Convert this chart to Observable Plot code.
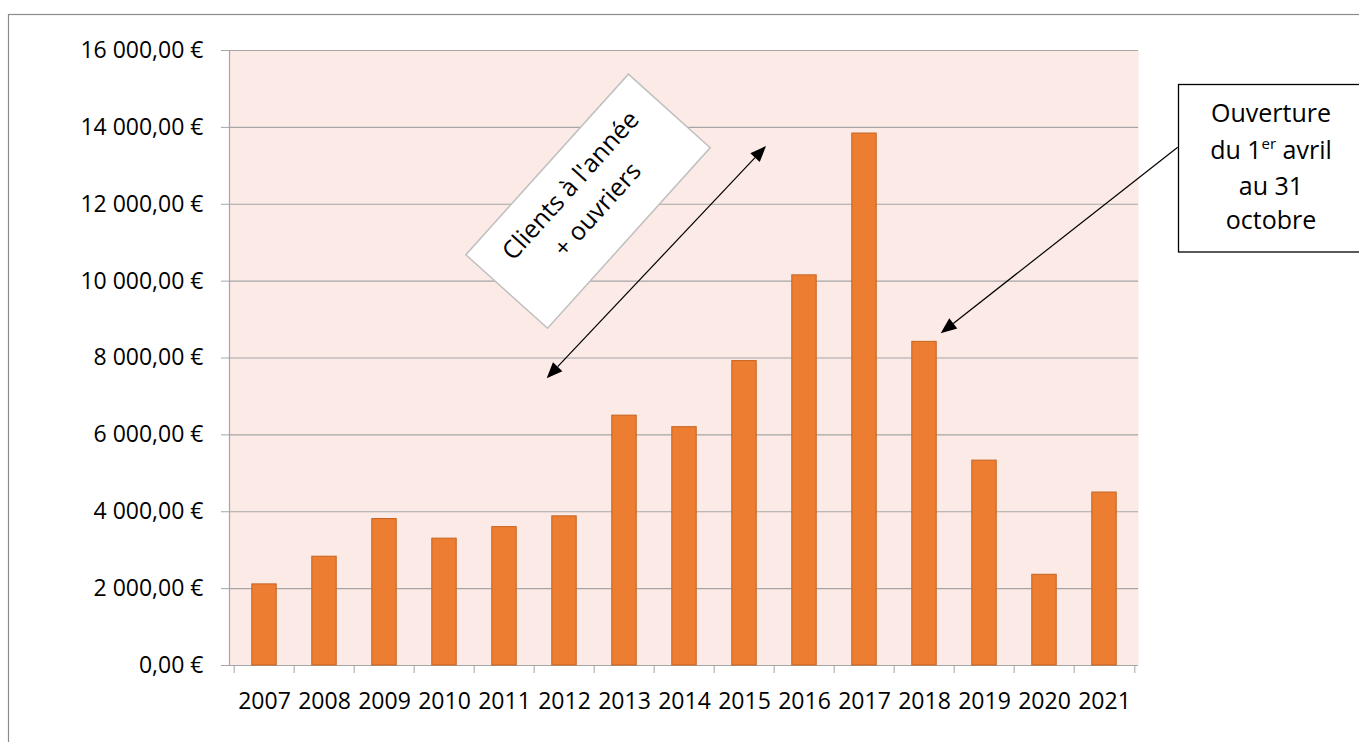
<!DOCTYPE html>
<html>
<head>
<meta charset="utf-8">
<script src="https://cdn.jsdelivr.net/npm/d3@7"></script>
<script src="https://cdn.jsdelivr.net/npm/@observablehq/plot@0.6"></script>
<style>
  html, body { margin: 0; padding: 0; background: #fff; }
  svg text { font-family: "Open Sans", sans-serif; }
</style>
</head>
<body>
<div id="chart"></div>
<script>
// ---- data ----
const years = ["2007","2008","2009","2010","2011","2012","2013","2014","2015","2016","2017","2018","2019","2020","2021"];
const revenue = [2110, 2830, 3810, 3300, 3600, 3880, 6500, 6200, 7920, 10150, 13840, 8420, 5330, 2360, 4500];
const yTicks = [0, 2000, 4000, 6000, 8000, 10000, 12000, 14000, 16000];
const noteLeft = ["Clients à l'année", "+ ouvriers"];
const noteRight = ["Ouverture", "du 1", "er", " avril", "au 31", "octobre"];

const rows = years.map((year, i) => ({year, value: revenue[i]}));

const W = 1359, H = 742;
const mL = 229, mR = 221, mT = 50, mB = 77;
const step = (W - mL - mR) / years.length;
const fr = d3.formatLocale({decimal: ",", thousands: " ", grouping: [3], currency: ["", " €"]});
const fmt = fr.format("$,.2f");
const grid = "#A6A6A6";

const plot = Plot.plot({
  width: W, height: H,
  marginLeft: mL, marginRight: mR, marginTop: mT, marginBottom: mB,
  style: {fontFamily: "Open Sans, sans-serif", fontSize: "23px", color: "#000", background: "#fff", overflow: "visible"},
  x: {domain: years, padding: 0, label: null},
  y: {domain: [0, 16000], label: null},
  marks: [
    Plot.frame({fill: "#FBEAE6", stroke: null}),
    Plot.gridY(yTicks, {stroke: grid, strokeOpacity: 1, strokeWidth: 1.2}),
    Plot.frame({anchor: "left", stroke: grid, strokeWidth: 1.2}),
    Plot.barY(rows, {x: "year", y: "value", fill: "#ED7D31", stroke: "#C5621F", strokeWidth: 1, insetLeft: (step - 25) / 2, insetRight: (step - 25) / 2}),
    Plot.axisY(yTicks, {tickFormat: fmt, tickSize: 8, tickPadding: 18, stroke: grid, fontSize: 23, label: null}),
    Plot.axisX({tickSize: 0, tickPadding: 27, fontSize: 23, label: null}),
    Plot.axisX({tickSize: 8, text: null, dx: -step / 2, stroke: grid, label: null}),
    Plot.axisX([years[years.length - 1]], {tickSize: 8, text: null, dx: step / 2, stroke: grid, label: null})
  ]
});

document.getElementById("chart").appendChild(plot);

// ---- annotations (drawn on top of the Plot SVG) ----
const svg = d3.select(plot);

// outer chart border
svg.append("rect")
  .attr("x", 8.5).attr("y", 14.5).attr("width", 1400).attr("height", 800)
  .attr("fill", "none").attr("stroke", "#8C8C8C").attr("stroke-width", 1.2);

function arrowHead(g, x1, y1, x2, y2, len, wid) {
  const a = Math.atan2(y2 - y1, x2 - x1);
  const bx = x2 - len * Math.cos(a), by = y2 - len * Math.sin(a);
  const px = Math.sin(a) * wid / 2, py = -Math.cos(a) * wid / 2;
  g.append("path")
    .attr("d", `M${x2},${y2}L${bx + px},${by + py}L${bx - px},${by - py}Z`)
    .attr("fill", "#000");
  return [bx, by];
}
function arrow(x1, y1, x2, y2, both) {
  const g = svg.append("g");
  let s = [x1, y1];
  const e = arrowHead(g, x1, y1, x2, y2, 16, 13);
  if (both) s = arrowHead(g, x2, y2, x1, y1, 16, 13);
  g.insert("line", "path")
    .attr("x1", s[0]).attr("y1", s[1]).attr("x2", e[0]).attr("y2", e[1])
    .attr("stroke", "#000").attr("stroke-width", 1.2);
}

// rotated label box
const rb = svg.append("g").attr("transform", "translate(588,201.2) rotate(-48)");
rb.append("rect").attr("x", -121.5).attr("y", -55).attr("width", 243).attr("height", 110)
  .attr("fill", "#fff").attr("stroke", "#BFBFBF").attr("stroke-width", 1.5);
rb.selectAll("text.n").data(noteLeft).join("text")
  .attr("x", 0).attr("y", (d, i) => -15 + i * 36)
  .attr("text-anchor", "middle").attr("font-size", 25).attr("fill", "#000")
  .text(d => d);

// double arrow
arrow(546.7, 378.3, 766, 146, true);

// right box
svg.append("rect").attr("x", 1178.5).attr("y", 84.5).attr("width", 200).attr("height", 167.5)
  .attr("fill", "#fff").attr("stroke", "#000").attr("stroke-width", 1.3);
const cx = 1271;
svg.append("text").attr("x", cx).attr("y", 122).attr("text-anchor", "middle").attr("font-size", 25).text(noteRight[0]);
const t2 = svg.append("text").attr("x", cx).attr("y", 158.5).attr("text-anchor", "middle").attr("font-size", 25);
t2.append("tspan").text(noteRight[1]);
t2.append("tspan").attr("font-size", 15).attr("dy", -10).text(noteRight[2]);
t2.append("tspan").attr("dy", 10).text(noteRight[3]);
svg.append("text").attr("x", cx).attr("y", 194.5).attr("text-anchor", "middle").attr("font-size", 25).text(noteRight[4]);
svg.append("text").attr("x", cx).attr("y", 229).attr("text-anchor", "middle").attr("font-size", 25).text(noteRight[5]);

// single arrow to 2018
arrow(1177.7, 147.3, 940.7, 333.3, false);
</script>
</body>
</html>
